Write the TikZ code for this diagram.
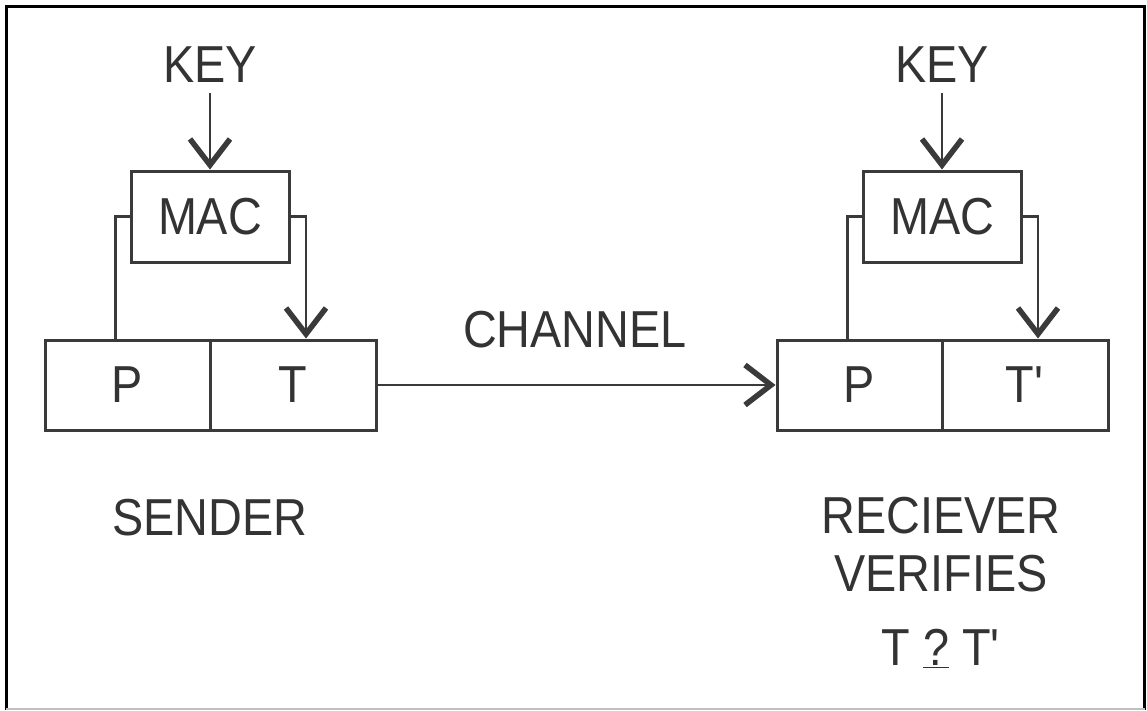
\documentclass[tikz,border=0pt]{standalone}
\usepackage{fontspec}
\setmainfont{Liberation Sans}[FakeStretch=0.9]
\usetikzlibrary{arrows.meta}
\definecolor{ink}{HTML}{333333}
\definecolor{lin}{HTML}{3A3A3A}
\begin{document}
\begin{tikzpicture}[x=1pt,y=-1pt,
  lbl/.style={font=\fontsize{52}{58}\selectfont, text=ink, inner sep=0pt, anchor=base},
  cell/.style={draw=lin, line width=3pt, inner sep=0pt, font=\fontsize{52}{58}\selectfont, text=ink},
  conn/.style={draw=lin, line width=3pt},
  arr/.style={draw=lin, line width=2.5pt, -{Straight Barb[length=26pt,width=40pt,line width=3pt 1]}}
]
\useasboundingbox (0,0) rectangle (1147,710);
\fill[white] (0,0) rectangle (1147,710);
% frame
\draw[black, line width=3pt] (6,710) -- (6,6) -- (1144.5,6) -- (1144.5,710);
\draw[black!25, line width=2pt] (6,709) -- (1144.5,709);

% sender side
\node[lbl] (keyL) at (210,82) {KEY};
\node[cell, minimum width=158pt, minimum height=91pt] (macL) at (210,216.5) {MAC};
\node[cell, minimum width=165pt, minimum height=90pt] (pL) at (127.5,385) {P};
\node[cell, minimum width=166pt, minimum height=90pt] (tL) at (293,385) {T};
\node[lbl] (sender) at (210,535) {SENDER};

% receiver side
\node[lbl] (keyR) at (942,82) {KEY};
\node[cell, minimum width=158pt, minimum height=91pt] (macR) at (942,216.5) {MAC};
\node[cell, minimum width=165pt, minimum height=90pt] (pR) at (859.5,385) {P};
\node[cell, minimum width=166pt, minimum height=90pt] (tR) at (1025,385) {T\textquotesingle};
\node[lbl, align=center, anchor=north] (recv) at (941,497) {RECIEVER\\VERIFIES\\[16pt]T \underline{?} T\textquotesingle};

% channel
\node[lbl] (chan) at (575,347) {CHANNEL};

% connectors
\draw[arr, shorten <=11pt] (keyL.south) -- (macL.north);
\draw[conn] (macL.west) -| ([xshift=-12.5pt]pL.north);
\draw[arr] (macL.east) -| ([xshift=13pt]tL.north);
\draw[arr, shorten <=11pt] (keyR.south) -- (macR.north);
\draw[conn] (macR.west) -| ([xshift=-12.5pt]pR.north);
\draw[arr] (macR.east) -| ([xshift=13pt]tR.north);
\draw[arr] (tL.east) -- (pR.west);
\end{tikzpicture}
\end{document}
